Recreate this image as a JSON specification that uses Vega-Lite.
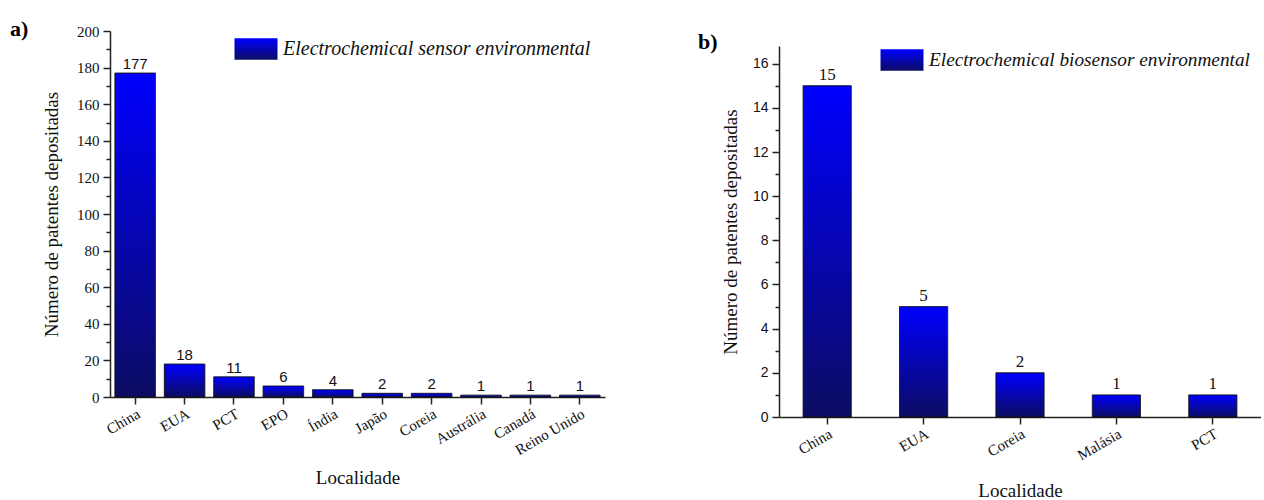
{
  "$schema": "https://vega.github.io/schema/vega-lite/v6.json",
  "background": "white",
  "padding": {"left": 10, "top": 18, "right": 0, "bottom": 0},
  "bounds": "flush",
  "spacing": 174,
  "resolve": {"scale": {"strokeDash": "independent"}, "legend": {"strokeDash": "independent"}},
  "config": {
    "view": {"stroke": null},
    "axis": {
      "grid": false,
      "domainColor": "#222222",
      "tickColor": "#222222",
      "domainWidth": 1.5,
      "tickWidth": 1.5,
      "labelColor": "#111111",
      "titleColor": "#111111",
      "titleFontWeight": "normal",
      "labelFont": "Liberation Serif",
      "titleFont": "Liberation Serif"
    },
    "legend": {
      "orient": "none",
      "padding": 0,
      "title": null,
      "labelFont": "Liberation Serif",
      "labelFontStyle": "italic",
      "labelColor": "#111111",
      "labelLimit": 0,
      "labelOffset": 5,
      "symbolType": "M-1,-0.5H1V0.5H-1Z",
      "symbolSize": 1849,
      "symbolStrokeColor": "#111111",
      "symbolStrokeWidth": 1
    }
  },
  "hconcat": [
    {
      "width": 495,
      "height": 366,
      "title": {"text": "a)", "anchor": "start", "frame": "group", "dx": -100, "dy": 34, "offset": 0, "baseline": "alphabetic", "fontSize": 22, "font": "Liberation Serif", "fontWeight": "bold", "color": "#000000"},
      "data": {"values": [
        {"pais": "China", "n": 177},
        {"pais": "EUA", "n": 18},
        {"pais": "PCT", "n": 11},
        {"pais": "EPO", "n": 6},
        {"pais": "Índia", "n": 4},
        {"pais": "Japão", "n": 2},
        {"pais": "Coreia", "n": 2},
        {"pais": "Austrália", "n": 1},
        {"pais": "Canadá", "n": 1},
        {"pais": "Reino Unido", "n": 1}
      ]},
      "encoding": {
        "x": {"field": "pais", "type": "nominal", "sort": null,
          "scale": {"paddingInner": 0.18, "paddingOuter": 0.1},
          "axis": {"title": "Localidade", "titleFontSize": 19, "titlePadding": 11, "labelAngle": -30, "labelFontSize": 15, "tickSize": 7, "labelPadding": 2}},
        "y": {"field": "n", "type": "quantitative",
          "scale": {"domain": [0, 200], "nice": false},
          "axis": {"title": "Número de patentes depositadas", "titleFontSize": 19, "titlePadding": 15, "labelFontSize": 15,
            "values": [0,10,20,30,40,50,60,70,80,90,100,110,120,130,140,150,160,170,180,190,200],
            "labelExpr": "datum.value % 20 == 0 ? datum.label : ''",
            "tickSize": {"condition": {"test": "datum.value % 20 == 0", "value": 7}, "value": 4},
            "labelPadding": 4, "labelOverlap": false}}
      },
      "layer": [
        {
          "mark": {"type": "bar", "stroke": "#111111", "strokeWidth": 1,
            "fill": {"gradient": "linear", "x1": 0, "y1": 0, "x2": 0, "y2": 1, "stops": [{"offset": 0, "color": "#0000ff"}, {"offset": 1, "color": "#0c0c62"}]}},
          "encoding": {
            "strokeDash": {"datum": "Electrochemical sensor environmental", "type": "nominal",
              "scale": {"range": [[1, 0]]},
              "legend": {"legendX": 124, "legendY": -4, "labelFontSize": 20,
                "encode": {"symbols": {"update": {"fill": {"value": {"gradient": "linear", "x1": 0, "y1": 0, "x2": 0, "y2": 1, "stops": [{"offset": 0, "color": "#0000ff"}, {"offset": 1, "color": "#0c0c62"}]}}, "fillOpacity": {"value": 1}, "stroke": {"value": "#111111"}, "strokeDash": {"value": []}}}}}}
          }
        },
        {
          "mark": {"type": "text", "baseline": "bottom", "dy": -1, "font": "Liberation Sans", "fontSize": 15, "color": "#111111"},
          "encoding": {"text": {"field": "n", "type": "quantitative"}}
        }
      ]
    },
    {
      "width": 482,
      "height": 386,
      "title": {"text": "b)", "anchor": "start", "frame": "group", "dx": -81, "dy": 40, "offset": 0, "baseline": "alphabetic", "fontSize": 22, "font": "Liberation Serif", "fontWeight": "bold", "color": "#000000"},
      "data": {"values": [
        {"pais": "China", "n": 15},
        {"pais": "EUA", "n": 5},
        {"pais": "Coreia", "n": 2},
        {"pais": "Malásia", "n": 1},
        {"pais": "PCT", "n": 1}
      ]},
      "encoding": {
        "x": {"field": "pais", "type": "nominal", "sort": null,
          "scale": {"paddingInner": 0.5, "paddingOuter": 0.25},
          "axis": {"title": "Localidade", "titleFontSize": 19, "titlePadding": 19, "labelAngle": -30, "labelFontSize": 15, "tickSize": 7, "labelPadding": 2}},
        "y": {"field": "n", "type": "quantitative",
          "scale": {"domain": [0, 16.8], "nice": false, "range": [386, 15]},
          "axis": {"title": "Número de patentes depositadas", "titleFontSize": 19, "titlePadding": 12, "labelFont": "Liberation Sans", "labelFontSize": 14,
            "values": [0,1,2,3,4,5,6,7,8,9,10,11,12,13,14,15,16],
            "labelExpr": "datum.value % 2 == 0 ? datum.label : ''",
            "tickSize": {"condition": {"test": "datum.value % 2 == 0", "value": 7}, "value": 4},
            "labelPadding": 4, "labelOverlap": false}}
      },
      "layer": [
        {
          "mark": {"type": "bar", "stroke": "#111111", "strokeWidth": 1,
            "fill": {"gradient": "linear", "x1": 0, "y1": 0, "x2": 0, "y2": 1, "stops": [{"offset": 0, "color": "#0000ff"}, {"offset": 1, "color": "#0c0c62"}]}},
          "encoding": {
            "strokeDash": {"datum": "Electrochemical biosensor environmental", "type": "nominal",
              "scale": {"range": [[1, 0]]},
              "legend": {"legendX": 101, "legendY": 7, "labelFontSize": 19.3,
                "encode": {"symbols": {"update": {"fill": {"value": {"gradient": "linear", "x1": 0, "y1": 0, "x2": 0, "y2": 1, "stops": [{"offset": 0, "color": "#0000ff"}, {"offset": 1, "color": "#0c0c62"}]}}, "fillOpacity": {"value": 1}, "stroke": {"value": "#111111"}, "strokeDash": {"value": []}}}}}}
          }
        },
        {
          "mark": {"type": "text", "baseline": "bottom", "dy": -2, "font": "Liberation Serif", "fontSize": 17, "color": "#111111"},
          "encoding": {"text": {"field": "n", "type": "quantitative"}}
        }
      ]
    }
  ]
}
